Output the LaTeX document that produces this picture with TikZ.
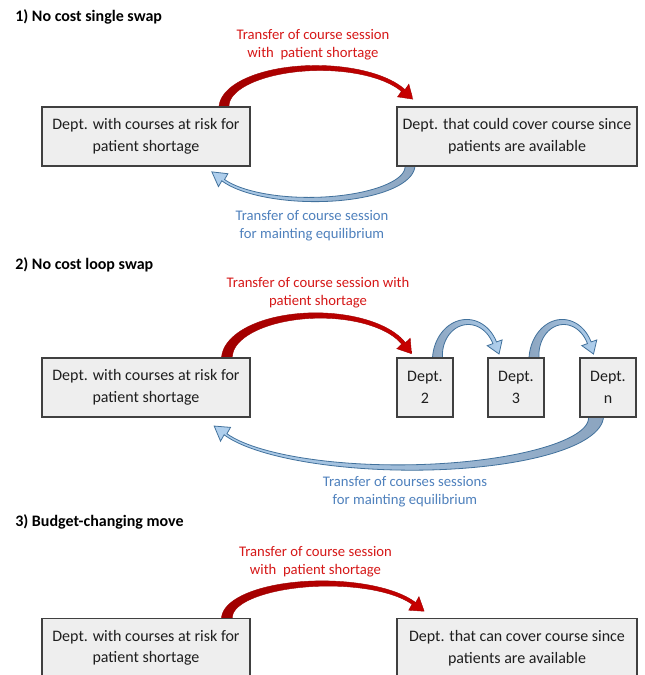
\documentclass[tikz,border=0pt]{standalone}
\usepackage{fontspec}
\setmainfont{Carlito}
\definecolor{boxline}{RGB}{64,64,64}
\definecolor{boxfill}{RGB}{238,238,238}
\definecolor{boxtext}{RGB}{30,30,30}
\definecolor{redtxt}{RGB}{214,24,24}
\definecolor{bluetxt}{RGB}{79,129,189}
\definecolor{reddark}{RGB}{160,0,0}
\definecolor{redmid}{RGB}{215,10,10}
\definecolor{redhead}{RGB}{200,0,0}
\definecolor{blueline}{RGB}{65,113,156}
\definecolor{bluetail}{RGB}{140,165,192}
\definecolor{bluehead}{RGB}{176,208,238}
% curved tapered block arrow:
% style, cx, cy, rx, ry, start angle, end angle, tail width, end width | head width, head length
\newcommand\carrow[9]{%
  \def\cwst{#1}\def\cwcx{#2}\def\cwcy{#3}\def\cwrx{#4}\def\cwry{#5}%
  \def\cwa{#6}\def\cwb{#7}\def\cwwa{#8}\def\cwwb{#9}\carrowcont}
\newcommand\carrowcont[2]{%
  \pgfmathsetmacro\cwca{cos(\cwb)}\pgfmathsetmacro\cwsa{sin(\cwb)}%
  \pgfmathsetmacro\cwpx{\cwcx+\cwrx*\cwca}\pgfmathsetmacro\cwpy{\cwcy+\cwry*\cwsa}%
  \pgfmathsetmacro\cwsg{sign(\cwb-\cwa)}%
  \pgfmathsetmacro\cwtx{-\cwrx*\cwsa*\cwsg}\pgfmathsetmacro\cwty{\cwry*\cwca*\cwsg}%
  \pgfmathsetmacro\cwtl{sqrt(\cwtx*\cwtx+\cwty*\cwty)}%
  \pgfmathsetmacro\cwtx{\cwtx/\cwtl}\pgfmathsetmacro\cwty{\cwty/\cwtl}%
  \pgfmathsetmacro\cwnx{\cwry*\cwca}\pgfmathsetmacro\cwny{\cwrx*\cwsa}%
  \pgfmathsetmacro\cwnl{sqrt(\cwnx*\cwnx+\cwny*\cwny)}%
  \pgfmathsetmacro\cwnx{\cwnx/\cwnl}\pgfmathsetmacro\cwny{\cwny/\cwnl}%
  \path[\cwst]
    plot[variable=\t, domain=\cwa:\cwb, samples=60, smooth]
      ({\cwcx+(\cwrx+(\cwwb+(\cwwa-\cwwb)*(1-(\t-\cwa)/(\cwb-\cwa))^2)/2)*cos(\t)},
       {\cwcy+(\cwry+(\cwwb+(\cwwa-\cwwb)*(1-(\t-\cwa)/(\cwb-\cwa))^2)/2)*sin(\t)})
    -- ({\cwpx+\cwnx*#1/2},{\cwpy+\cwny*#1/2})
    -- ({\cwpx+\cwtx*#2},{\cwpy+\cwty*#2})
    -- ({\cwpx-\cwnx*#1/2},{\cwpy-\cwny*#1/2})
    -- plot[variable=\t, domain=\cwb:\cwa, samples=60, smooth]
      ({\cwcx+(\cwrx-(\cwwb+(\cwwa-\cwwb)*(1-(\t-\cwa)/(\cwb-\cwa))^2)/2)*cos(\t)},
       {\cwcy+(\cwry-(\cwwb+(\cwwa-\cwwb)*(1-(\t-\cwa)/(\cwb-\cwa))^2)/2)*sin(\t)})
    -- cycle;
}
\begin{document}
\begin{tikzpicture}[x=0.75pt,y=-0.75pt,
  box/.style={draw=boxline, line width=1.1pt, fill=boxfill, align=center, text=boxtext,
    font=\fontsize{12}{16.2}\selectfont, inner sep=0pt},
  title/.style={anchor=west, font=\bfseries\fontsize{12}{14}\selectfont, inner sep=0pt},
  redlab/.style={text=redtxt, align=center, font=\fontsize{11}{13.8}\selectfont, inner sep=0pt},
  bluelab/.style={text=bluetxt, align=center, font=\fontsize{11}{13.8}\selectfont, inner sep=0pt},
  redarrow/.style={draw=reddark, line width=0.3pt, left color=reddark, middle color=redmid, right color=redhead},
  bluearrowL/.style={draw=blueline, line width=0.6pt, left color=bluehead, right color=bluetail},
  bluearrowR/.style={draw=blueline, line width=0.6pt, left color=bluetail, right color=bluehead}]
\clip (0,0) rectangle (645,675);
\fill[white] (0,0) rectangle (645,675);

% ---------- 1) ----------
\node[title] (t1) at (15,16.7) {1) No cost single swap};
\node[redlab] (r1) at (313,45) {Transfer of course session\\with\ \ patient shortage};
\carrow{redarrow}{318}{107}{94}{39}{-180}{-25}{10}{4}{17}{13}
\carrow{bluearrowL}{312}{166}{98}{33.5}{0}{155}{10}{3}{16}{14}
\node[box, minimum width=156pt, minimum height=44.25pt] (a1) at (146,136.5) {Dept. with courses at risk for\\patient shortage};
\node[box, minimum width=180pt, minimum height=44.25pt] (b1) at (517,136.5) {Dept. that could cover course since\\patients are available};
\node[bluelab] (l1) at (312,226) {Transfer of course session\\for mainting equilibrium};

% ---------- 2) ----------
\node[title] (t2) at (15,265) {2) No cost loop swap};
\node[redlab] (r2) at (318,292.8) {Transfer of course session with\\patient shortage};
\carrow{redarrow}{318}{358}{91}{42.5}{-180}{-20}{11}{4}{17}{13}
\carrow{bluearrowR}{467.5}{358}{30}{36}{-180}{-25}{10}{4}{16}{12}
\carrow{bluearrowR}{563}{358}{29}{36}{-180}{-25}{10}{4}{16}{12}
\carrow{bluearrowL}{405}{417}{191}{50.5}{0}{160}{15}{3}{17}{14}
\node[box, minimum width=156pt, minimum height=44.25pt] (a2) at (146,387.5) {Dept. with courses at risk for\\patient shortage};
\node[box, minimum width=42pt, minimum height=44.25pt] (d2) at (425,387.5) {Dept.\\2};
\node[box, minimum width=42pt, minimum height=44.25pt] (d3) at (516,387.5) {Dept.\\3};
\node[box, minimum width=42pt, minimum height=44.25pt] (dn) at (608,387.5) {Dept.\\n};
\node[bluelab] (l2) at (405,491.7) {Transfer of courses sessions\\for mainting equilibrium};

% ---------- 3) ----------
\node[title] (t3) at (15,521.7) {3) Budget-changing move};
\node[redlab] (r3) at (315.5,561.7) {Transfer of course session\\with\ \ patient shortage};
\carrow{redarrow}{325}{618}{98}{34.5}{-180}{-25}{11}{4}{17}{13}
\node[box, minimum width=156pt, minimum height=44.5pt] (a3) at (146,648) {Dept. with courses at risk for\\patient shortage};
\node[box, minimum width=180pt, minimum height=44.5pt] (b3) at (517,648) {Dept. that can cover course since\\patients are available};
\end{tikzpicture}
\end{document}
